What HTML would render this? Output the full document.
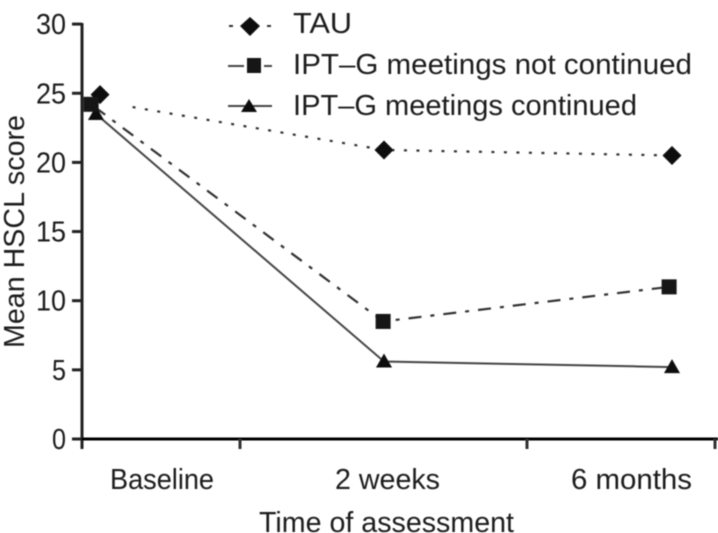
<!DOCTYPE html>
<html lang="en">
<head>
<meta charset="utf-8">
<title>Mean HSCL score by time of assessment</title>
<style>
html,body{margin:0;padding:0;background:#fff;}
svg{display:block;}
text{font-family:"Liberation Sans",sans-serif;font-size:28.5px;fill:#1c1c1c;}
</style>
</head>
<body>
<svg id="chart" width="718" height="533" viewBox="0 0 718 533" xmlns="http://www.w3.org/2000/svg">
<defs><filter id="soft" x="-5%" y="-5%" width="110%" height="110%"><feGaussianBlur stdDeviation="0.6"/></filter></defs>
<rect width="718" height="533" fill="#fff"/>
<g id="root" filter="url(#soft)">
<line x1="82" y1="23" x2="82" y2="449" stroke="#222" stroke-width="3"/>
<line x1="72" y1="439" x2="718" y2="439" stroke="#000" stroke-width="3"/>
<line x1="240" y1="439" x2="240" y2="449" stroke="#333" stroke-width="3"/>
<line x1="527" y1="439" x2="527" y2="449" stroke="#333" stroke-width="3"/>
<line x1="715" y1="439" x2="715" y2="449" stroke="#333" stroke-width="3"/>
<text x="110" y="489" textLength="104" lengthAdjust="spacingAndGlyphs">Baseline</text>
<text x="335" y="489" textLength="105" lengthAdjust="spacingAndGlyphs">2 weeks</text>
<text x="571" y="489" textLength="121" lengthAdjust="spacingAndGlyphs">6 months</text>
<text x="259" y="532" textLength="255" lengthAdjust="spacingAndGlyphs">Time of assessment</text>
<text transform="translate(24,348) rotate(-90)" x="0" y="0" textLength="233" lengthAdjust="spacingAndGlyphs">Mean HSCL score</text>
<g id="yTicks"></g>
<g id="series"></g>
<g>
<line x1="229" y1="26" x2="272" y2="26" stroke="#333" stroke-width="2" stroke-dasharray="4 34"/>
<polygon points="250,17 260,26 250,36 240,26" fill="#0a0a0a"/>
<text x="293" y="33" textLength="59" lengthAdjust="spacingAndGlyphs">TAU</text>
<line x1="228" y1="66" x2="272" y2="66" stroke="#444" stroke-width="2" stroke-dasharray="16 20 9 0"/>
<rect x="247" y="58" width="14" height="15" fill="#161616"/>
<text x="293" y="74" textLength="399" lengthAdjust="spacingAndGlyphs">IPT–G meetings not continued</text>
<line x1="228" y1="106" x2="272" y2="106" stroke="#444" stroke-width="2"/>
<polygon points="249,99 257,112 241,112" fill="#0a0a0a"/>
<text x="293" y="115" textLength="344" lengthAdjust="spacingAndGlyphs">IPT–G meetings continued</text>
</g>
</g>
</svg>
<script>
const yTickValues = [0, 5, 10, 15, 20, 25, 30];
const tauTimes = [0.014, 1, 2];
const tauValues = [24.9, 20.9, 20.5];
const tauLineValues = [24.4, 20.9, 20.5];
const notContinuedTimes = [-0.017, 0.997, 1.99];
const notContinuedValues = [24.2, 8.5, 11];
const continuedTimes = [0, 1, 2];
const continuedValues = [23.5, 5.6, 5.2];

const NS = 'http://www.w3.org/2000/svg';
function xScale(t) { return 96 + 288 * t; }
function yScale(v) { return 439 - 13.83 * v; }

const yTicksGroup = document.getElementById('yTicks');
yTickValues.forEach(function (v) {
  const tick = document.createElementNS(NS, 'line');
  
  
  tick.setAttribute('x1', 72);
  tick.setAttribute('x2', 82);
  tick.setAttribute('y1', yScale(v));
  tick.setAttribute('y2', yScale(v));
  tick.setAttribute('stroke', '#222');
  tick.setAttribute('stroke-width', 3);
  yTicksGroup.appendChild(tick);
  const label = document.createElementNS(NS, 'text');
  
  
  label.setAttribute('x', 66);
  label.setAttribute('y', yScale(v) + 10);
  label.setAttribute('text-anchor', 'end');
  label.setAttribute('textLength', String(v).length > 1 ? 30 : 14);
  label.setAttribute('lengthAdjust', 'spacingAndGlyphs');
  label.textContent = String(v);
  yTicksGroup.appendChild(label);
});

const seriesGroup = document.getElementById('series');
function drawLine(times, values, dash, offset, color, width) {
  const line = document.createElementNS(NS, 'polyline');
  
  
  line.setAttribute('points', times.map(function (t, i) { return xScale(t) + ',' + yScale(values[i]); }).join(' '));
  line.setAttribute('fill', 'none');
  line.setAttribute('stroke', color);
  line.setAttribute('stroke-width', width);
  if (dash) line.setAttribute('stroke-dasharray', dash);
  if (offset) line.setAttribute('stroke-dashoffset', offset);
  seriesGroup.appendChild(line);
}
function drawMarker(shape, x, y) {
  let m;
  if (shape === 'square') {
    m = document.createElementNS(NS, 'rect');
    m.setAttribute('x', x - 7.5);
    m.setAttribute('y', y - 7.5);
    m.setAttribute('width', 15);
    m.setAttribute('height', 15);
    m.setAttribute('fill', '#161616');
  } else if (shape === 'diamond') {
    m = document.createElementNS(NS, 'polygon');
    m.setAttribute('points', [x, y - 9.5, x + 9.5, y, x, y + 9.5, x - 9.5, y].join(' '));
    m.setAttribute('fill', '#0a0a0a');
  } else {
    m = document.createElementNS(NS, 'polygon');
    m.setAttribute('points', [x, y - 8, x + 8, y + 6, x - 8, y + 6].join(' '));
    m.setAttribute('fill', '#0a0a0a');
  }
  
  
  seriesGroup.appendChild(m);
}
/* the TAU dotted line starts with a long gap after the baseline marker */
const tauDash = ['0 33'].concat(new Array(60).fill('3 9.5')).join(' ');
drawLine(tauTimes, tauLineValues, tauDash, 0, '#333', 2.2);
drawLine(notContinuedTimes, notContinuedValues, '13 9 4 9', 30.5, '#333', 2.2);
drawLine(continuedTimes, continuedValues, '', 0, '#444', 2);
tauTimes.forEach(function (t, i) { drawMarker('diamond', xScale(t), yScale(tauValues[i])); });
continuedTimes.forEach(function (t, i) { drawMarker('triangle', xScale(t), yScale(continuedValues[i])); });
notContinuedTimes.forEach(function (t, i) { drawMarker('square', xScale(t), yScale(notContinuedValues[i])); });
</script>
</body>
</html>
